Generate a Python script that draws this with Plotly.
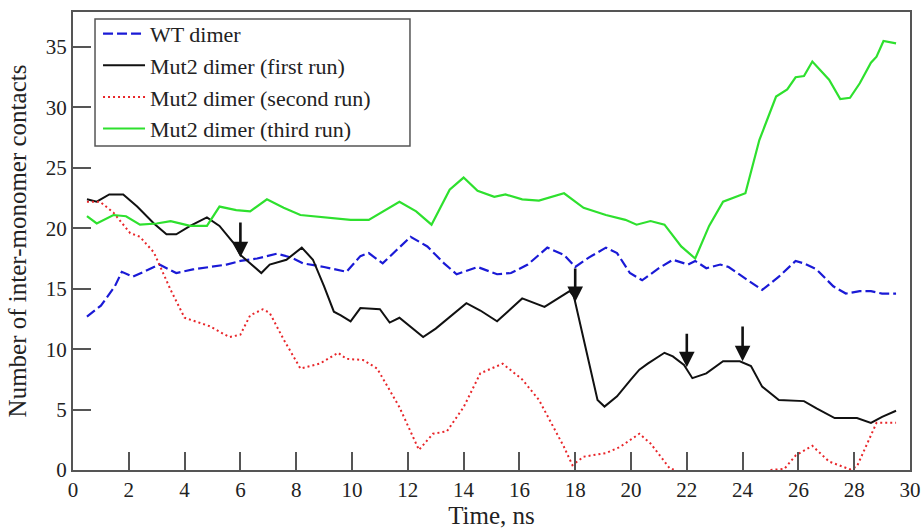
import plotly.graph_objects as go

# ---- data ----
wt_x = [0.5, 1.0, 1.5, 1.75, 2.15, 2.6, 3.1, 3.7, 4.3, 4.9, 5.5, 6.0, 6.6, 7.3, 7.8, 8.25, 9.0, 9.8,
        10.3, 10.6, 11.1, 11.6, 12.1, 12.7, 13.3, 13.75, 14.5, 15.2, 15.7, 16.3, 17.0, 17.6, 18.0,
        18.5, 19.1, 19.5, 19.96, 20.4, 21.0, 21.5, 22.05, 22.3, 22.7, 23.2, 23.5, 24.0, 24.7, 25.3,
        25.9, 26.2, 26.65, 27.25, 27.7, 28.2, 28.6, 29.0, 29.5]
wt_y = [12.7, 13.6, 15.2, 16.4, 16.0, 16.5, 17.0, 16.3, 16.6, 16.8, 17.0, 17.3, 17.5, 17.9, 17.6, 17.1,
        16.8, 16.4, 17.7, 17.95, 17.1, 18.2, 19.3, 18.5, 17.1, 16.2, 16.8, 16.2, 16.3, 17.0, 18.4, 17.8,
        16.8, 17.6, 18.4, 17.95, 16.3, 15.7, 16.7, 17.4, 17.0, 17.3, 16.7, 17.0, 16.8, 16.0, 14.9, 16.0,
        17.3, 17.1, 16.6, 15.2, 14.6, 14.8, 14.8, 14.6, 14.6]

run1_x = [0.5, 0.85, 1.3, 1.8, 2.3, 2.9, 3.35, 3.7, 4.2, 4.8, 5.25, 5.75, 6.0, 6.35, 6.75, 7.05, 7.65,
          8.2, 8.6, 9.0, 9.35, 9.6, 9.95, 10.3, 11.0, 11.35, 11.7, 12.55, 13.0, 14.1, 14.6, 15.2, 16.1,
          16.9, 17.8, 17.95, 18.4, 18.8, 19.05, 19.5, 20.0, 20.3, 20.6, 21.2, 21.5, 21.9, 22.2, 22.7,
          23.3, 23.9, 24.3, 24.7, 25.3, 26.2, 26.65, 27.3, 28.1, 28.6, 29.0, 29.5]
run1_y = [22.4, 22.2, 22.8, 22.8, 21.8, 20.4, 19.5, 19.5, 20.2, 20.9, 20.2, 18.8, 17.8, 17.1, 16.3, 17.0,
          17.4, 18.4, 17.4, 15.2, 13.1, 12.8, 12.3, 13.4, 13.3, 12.2, 12.6, 11.0, 11.7, 13.8, 13.2, 12.3,
          14.2, 13.5, 14.8, 14.4, 9.7, 5.8, 5.25, 6.1, 7.5, 8.3, 8.8, 9.7, 9.4, 8.7, 7.6, 8.0, 9.0, 9.0,
          8.6, 6.9, 5.8, 5.7, 5.1, 4.3, 4.3, 3.9, 4.4, 4.9]

run2_x = [0.5, 0.97, 1.45, 2.05, 2.4, 2.9, 3.5, 4.0, 4.9, 5.6, 6.0, 6.35, 6.8, 7.05, 7.55, 8.15, 8.85,
          9.5, 9.8, 10.4, 10.9, 11.7, 12.4, 12.9, 13.4, 14.0, 14.6, 15.4, 16.1, 16.7, 17.6, 17.9, 18.3,
          19.1, 19.6, 20.3, 20.7, 21.4, 21.6, 23.3, 25.0, 25.5, 25.9, 26.5, 27.1, 27.85, 28.1, 28.8, 29.5]
run2_y = [22.2, 22.2, 21.3, 19.6, 19.3, 18.0, 14.9, 12.6, 11.9, 11.0, 11.2, 12.8, 13.3, 13.0, 10.8, 8.4,
          8.8, 9.7, 9.2, 9.1, 8.4, 5.2, 1.66, 3.0, 3.2, 5.2, 8.0, 8.8, 7.5, 5.8, 1.9, 0.4, 1.1, 1.4, 1.9,
          3.0, 2.2, 0.1, 0.0, None, 0.0, 0.1, 1.2, 2.0, 0.7, 0.05, 0.3, 3.9, 3.9]

run3_x = [0.5, 0.85, 1.45, 1.9, 2.4, 3.0, 3.5, 4.2, 4.8, 5.25, 5.85, 6.35, 6.95, 7.55, 8.15, 9.1, 9.95,
          10.6, 11.1, 11.7, 12.3, 12.85, 13.5, 14.0, 14.5, 15.1, 15.5, 16.1, 16.7, 17.6, 18.3, 19.1,
          19.8, 20.2, 20.7, 21.2, 21.8, 22.3, 22.8, 23.3, 24.1, 24.6, 25.2, 25.6, 25.9, 26.2, 26.5,
          27.1, 27.5, 27.85, 28.2, 28.6, 28.8, 29.05, 29.5]
run3_y = [21.0, 20.4, 21.1, 21.0, 20.3, 20.4, 20.6, 20.2, 20.2, 21.8, 21.5, 21.4, 22.4, 21.7, 21.1, 20.9,
          20.7, 20.7, 21.4, 22.2, 21.4, 20.3, 23.2, 24.2, 23.1, 22.6, 22.8, 22.4, 22.3, 22.9, 21.7, 21.1,
          20.7, 20.3, 20.6, 20.3, 18.5, 17.5, 20.2, 22.2, 22.9, 27.3, 30.9, 31.5, 32.5, 32.6, 33.8, 32.3,
          30.7, 30.8, 32.0, 33.7, 34.2, 35.5, 35.3]

names = ["WT dimer", "Mut2 dimer (first run)", "Mut2 dimer (second run)", "Mut2 dimer (third run)"]

# arrows on the first-run trace: (x, tip y, tail y)
arrow_x = [6.0, 18.0, 22.0, 24.0]
arrow_tip = [17.6, 13.9, 8.5, 9.0]
arrow_tail = [20.6, 16.8, 11.4, 12.0]

x_ticks = list(range(0, 31, 2))
y_ticks = list(range(0, 36, 5))

FONT = "Liberation Serif"

fig = go.Figure()
fig.add_trace(go.Scatter(x=wt_x, y=wt_y, mode="lines", name=names[0],
                         line=dict(color="#1a1ad6", width=2.2, dash="10px,4px")))
fig.add_trace(go.Scatter(x=run1_x, y=run1_y, mode="lines", name=names[1],
                         line=dict(color="#111111", width=2)))
fig.add_trace(go.Scatter(x=run2_x, y=run2_y, mode="lines", name=names[2],
                         line=dict(color="#e8262a", width=2, dash="2px,3px")))
fig.add_trace(go.Scatter(x=run3_x, y=run3_y, mode="lines", name=names[3],
                         line=dict(color="#2ee02e", width=2.2)))

for ax_, tip, tail in zip(arrow_x, arrow_tip, arrow_tail):
    fig.add_annotation(x=ax_, y=tip, ax=ax_, ay=tail, xref="x", yref="y", axref="x", ayref="y",
                       showarrow=True, text="", arrowhead=2, arrowsize=1.2, arrowwidth=2.6,
                       arrowcolor="#111111")

# legend frame
fig.add_shape(type="rect", xref="paper", yref="paper", x0=0.0263, x1=0.4026, y0=0.7074, y1=0.9847,
              line=dict(color="#555555", width=1.5), fillcolor="white", layer="below")

fig.update_layout(
    width=921, height=530,
    margin=dict(l=73, r=11, t=12, b=60),
    paper_bgcolor="white", plot_bgcolor="white",
    font=dict(family=FONT, size=21, color="#222222"),
    showlegend=True,
    legend=dict(x=0.0299, y=0.998, xanchor="left", yanchor="top",
                borderwidth=0, bgcolor="rgba(0,0,0,0)",
                font=dict(family=FONT, size=22, color="#222222"),
                tracegroupgap=0, itemwidth=42),
    xaxis=dict(range=[0, 30], tickvals=x_ticks, ticks="inside", ticklen=18, tickwidth=1.5,
               tickcolor="#555555", showline=True, linecolor="#555555", linewidth=2, mirror=True,
               showgrid=False, zeroline=False, tickfont=dict(size=21), automargin=False,
               title=dict(text="Time, ns", font=dict(size=25), standoff=4)),
    yaxis=dict(range=[0, 37.9], tickvals=y_ticks, ticks="inside", ticklen=18, tickwidth=1.5,
               tickcolor="#555555", showline=True, linecolor="#555555", linewidth=2, mirror=True,
               showgrid=False, zeroline=False, tickfont=dict(size=21), automargin=False,
               title=dict(text="Number of inter-monomer contacts", font=dict(size=25), standoff=12)),
)

fig.write_html("out.html")
